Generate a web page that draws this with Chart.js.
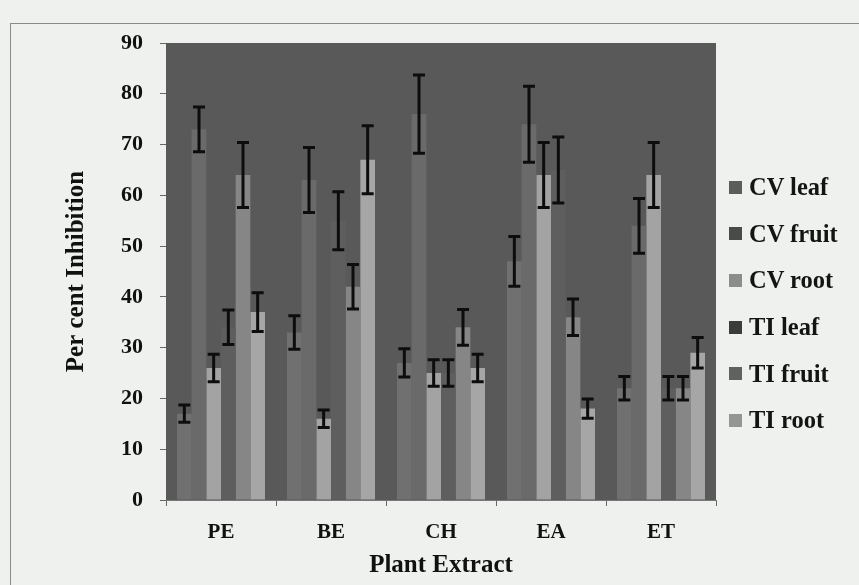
<!DOCTYPE html>
<html>
<head>
<meta charset="utf-8">
<script src="https://cdn.jsdelivr.net/npm/chart.js@4"></script>
<style>
  html, body { margin: 0; padding: 0; background: #eef1ed; }
  #wrap { position: relative; width: 859px; height: 585px; overflow: hidden; background: #eef1ed; }
  #frame { position: absolute; left: 10px; top: 23px; width: 900px; height: 600px; border: 1px solid #8a8a8a; box-sizing: border-box; }
  canvas { position: absolute; left: 0; top: 0; }
  #legend { position: absolute; left: 729px; top: 164px; font-family: "Liberation Serif", "Times New Roman", serif; font-weight: bold; font-size: 24.5px; color: #141414; }
  .item { height: 46.6px; display: flex; align-items: center; white-space: nowrap; }
  .sw { width: 13px; height: 13px; margin-right: 7px; }
</style>
</head>
<body>
<div id="wrap">
  <div id="frame"></div>
  <canvas id="c" width="859" height="585"></canvas>
  <div id="legend"></div>
</div>
<script>
const categories = ["PE", "BE", "CH", "EA", "ET"];
const seriesLabels = ["CV leaf", "CV fruit", "CV root", "TI leaf", "TI fruit", "TI root"];

const cvLeaf  = [17, 33, 27, 47, 22];
const cvFruit = [73, 63, 76, 74, 54];
const cvRoot  = [26, 16, 25, 64, 64];
const tiLeaf  = [34, 55, 25, 65, 22];
const tiFruit = [64, 42, 34, 36, 22];
const tiRoot  = [37, 67, 26, 18, 29];

const cvLeafErr  = [1.7, 3.3, 2.8, 4.9, 2.3];
const cvFruitErr = [4.4, 6.4, 7.7, 7.5, 5.4];
const cvRootErr  = [2.7, 1.7, 2.6, 6.4, 6.4];
const tiLeafErr  = [3.4, 5.7, 2.6, 6.5, 2.3];
const tiFruitErr = [6.4, 4.4, 3.5, 3.6, 2.3];
const tiRootErr  = [3.8, 6.7, 2.7, 1.9, 3.0];

const yTickMin = 0, yTickMax = 90, yTickStep = 10;

const seriesValues = [cvLeaf, cvFruit, cvRoot, tiLeaf, tiFruit, tiRoot];
const seriesErrors = [cvLeafErr, cvFruitErr, cvRootErr, tiLeafErr, tiFruitErr, tiRootErr];
const barColors = ["#707070", "#6a6a6a", "#a3a3a3", "#5e5e5e", "#868686", "#a6a6a6"];
const legendColors = ["#5c5c5c", "#4a4a4a", "#8c8c8c", "#3c3c3c", "#616161", "#959595"];

const serif = "'Liberation Serif', 'Times New Roman', serif";

const plotBg = {
  id: 'plotBg',
  beforeDatasetsDraw(chart) {
    const {ctx, chartArea: a} = chart;
    ctx.save();
    ctx.fillStyle = '#595959';
    ctx.fillRect(a.left, a.top, a.right - a.left, a.bottom - a.top);
    ctx.restore();
  }
};

const errorBars = {
  id: 'errorBars',
  afterDatasetsDraw(chart) {
    const {ctx} = chart;
    const y = chart.scales.y;
    ctx.save();
    ctx.strokeStyle = '#0d0d0d';
    ctx.lineWidth = 3;
    chart.data.datasets.forEach((ds, i) => {
      const meta = chart.getDatasetMeta(i);
      meta.data.forEach((bar, j) => {
        const v = ds.data[j], e = seriesErrors[i][j];
        const x = bar.x;
        const yt = y.getPixelForValue(v + e);
        const yb = y.getPixelForValue(v - e);
        const hw = 6;
        ctx.beginPath();
        ctx.moveTo(x, yt); ctx.lineTo(x, yb);
        ctx.moveTo(x - hw, yt); ctx.lineTo(x + hw, yt);
        ctx.moveTo(x - hw, yb); ctx.lineTo(x + hw, yb);
        ctx.stroke();
      });
    });
    ctx.restore();
  }
};

new Chart(document.getElementById('c'), {
  type: 'bar',
  data: {
    labels: categories,
    datasets: seriesLabels.map((lab, i) => ({
      label: lab,
      data: seriesValues[i],
      backgroundColor: barColors[i],
      borderWidth: 0,
      barPercentage: 1.0,
      categoryPercentage: 0.8
    }))
  },
  options: {
    responsive: false,
    animation: false,
    layout: { padding: { left: 0, right: 143, top: 43, bottom: 0 } },
    plugins: { legend: { display: false }, tooltip: { enabled: false } },
    scales: {
      x: {
        afterFit(scale) { scale.height = 85; },
        grid: { display: true, drawOnChartArea: false, offset: true, tickLength: 6, color: '#666' },
        border: { display: true, color: '#777' },
        ticks: { color: '#111', padding: 14, font: { family: serif, size: 21, weight: 'bold' } },
        title: { display: true, text: 'Plant Extract', color: '#111', padding: { top: 0, bottom: 4 },
                 font: { family: serif, size: 25, weight: 'bold' } }
      },
      y: {
        min: yTickMin, max: yTickMax,
        afterFit(scale) { scale.width = 166; },
        grid: { display: true, drawOnChartArea: false, tickLength: 6, color: '#666' },
        border: { display: true, color: '#777' },
        ticks: { stepSize: yTickStep, color: '#111', padding: 17, font: { family: serif, size: 22, weight: 'bold' } },
        title: { display: true, text: 'Per cent Inhibition', color: '#111', padding: { top: 62, bottom: 0 },
                 font: { family: serif, size: 25, weight: 'bold' } }
      }
    }
  },
  plugins: [plotBg, errorBars]
});

const leg = document.getElementById('legend');
seriesLabels.forEach((lab, i) => {
  const it = document.createElement('div');
  it.className = 'item';
  const sw = document.createElement('span');
  sw.className = 'sw';
  sw.style.background = legendColors[i];
  const tx = document.createElement('span');
  tx.textContent = lab;
  it.appendChild(sw); it.appendChild(tx);
  leg.appendChild(it);
});
</script>
</body>
</html>
